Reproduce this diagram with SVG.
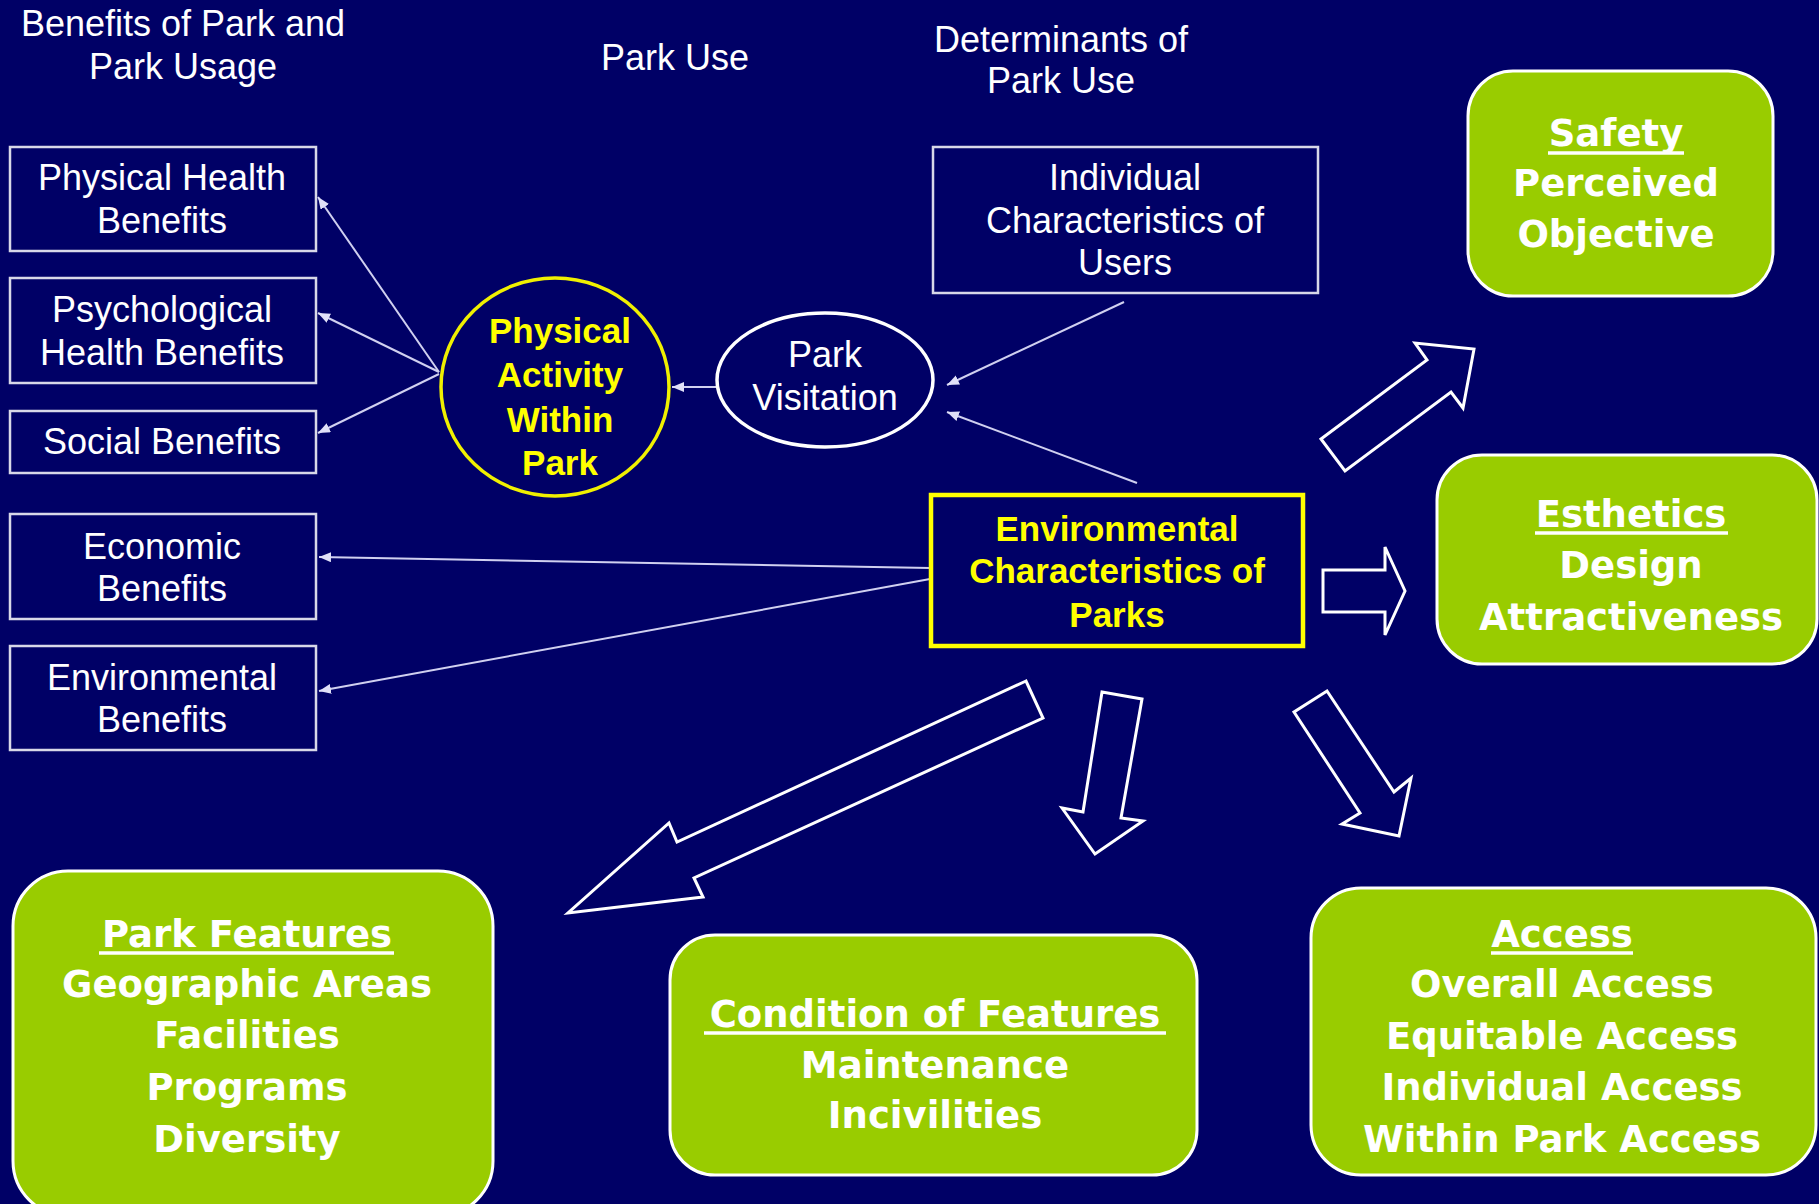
<svg xmlns="http://www.w3.org/2000/svg" width="1819" height="1204" viewBox="0 0 1819 1204">
<style>
.bg{fill:#000066}
.box{fill:#000066;stroke:#d8d8e8;stroke-width:2.5}
.t{font-family:"Liberation Sans",Arial,sans-serif;font-size:36px;fill:#ffffff;text-anchor:middle}
.ty{font-family:"Liberation Sans",Arial,sans-serif;font-size:35px;font-weight:bold;fill:#ffff00;text-anchor:middle}
.g{fill:#99cc00;stroke:#ffffff;stroke-width:3}
.tg{font-family:Verdana,"DejaVu Sans",sans-serif;font-size:37px;font-weight:bold;fill:#ffffff;text-anchor:middle}
.ul{stroke:#ffffff;stroke-width:3.5}
.ln{stroke:#d0d0f0;stroke-width:2;fill:none;marker-end:url(#ah)}
.blk{fill:#000066;stroke:#ffffff;stroke-width:3;stroke-linejoin:miter}
</style>
<defs>
<marker id="ah" markerUnits="userSpaceOnUse" markerWidth="14" markerHeight="12" refX="12" refY="5" orient="auto">
<path d="M0,0 L12,5 L0,10 Z" fill="#e0e0f8"/>
</marker>
</defs>
<rect class="bg" x="0" y="0" width="1819" height="1204"/>

<g id="titles">
<text class="t" x="183" y="36">Benefits of Park and</text>
<text class="t" x="183" y="79">Park Usage</text>
<text class="t" x="675" y="70">Park Use</text>
<text class="t" x="1061" y="52">Determinants of</text>
<text class="t" x="1061" y="93">Park Use</text>
</g>

<g id="connectors">
<line class="ln" x1="716" y1="387" x2="672" y2="387"/>
<line class="ln" x1="439" y1="372" x2="318" y2="197"/>
<line class="ln" x1="439" y1="372" x2="318" y2="313"/>
<line class="ln" x1="439" y1="374" x2="318" y2="433"/>
<line class="ln" x1="1124" y1="302" x2="947" y2="385"/>
<line class="ln" x1="1137" y1="483" x2="947" y2="412"/>
<line class="ln" x1="930" y1="568" x2="319" y2="557"/>
<line class="ln" x1="930" y1="579" x2="319" y2="691"/>
<polygon class="blk" points="1321,439 1427,360 1415,343 1474,349 1463,408 1451,392 1345,471"/>
<polygon class="blk" points="1323,570 1385,570 1385,547 1405,591 1385,635 1385,612 1323,612"/>
<polygon class="blk" points="1026,681 677,842 669,823 568,913 703,897 694,878 1043,718"/>
<polygon class="blk" points="1102,692 1142,699 1121,818 1143,821 1095,854 1062,808 1083,812"/>
<polygon class="blk" points="1327,691 1394,792 1411,778 1399,836 1342,824 1360,813 1294,712"/>
</g>

<g id="physical-health">
<rect class="box" x="10" y="147" width="306" height="104"/>
<text class="t" x="162" y="190">Physical Health</text>
<text class="t" x="162" y="233">Benefits</text>
</g>
<g id="psychological">
<rect class="box" x="10" y="278" width="306" height="105"/>
<text class="t" x="162" y="322">Psychological</text>
<text class="t" x="162" y="365">Health Benefits</text>
</g>
<g id="social">
<rect class="box" x="10" y="411" width="306" height="62"/>
<text class="t" x="162" y="454">Social Benefits</text>
</g>
<g id="economic">
<rect class="box" x="10" y="514" width="306" height="105"/>
<text class="t" x="162" y="559">Economic</text>
<text class="t" x="162" y="601">Benefits</text>
</g>
<g id="environmental-benefits">
<rect class="box" x="10" y="646" width="306" height="104"/>
<text class="t" x="162" y="690">Environmental</text>
<text class="t" x="162" y="732">Benefits</text>
</g>

<g id="physical-activity">
<ellipse cx="555" cy="387" rx="114" ry="109" fill="#000066" stroke="#f0f000" stroke-width="3.5"/>
<text class="ty" x="560" y="343">Physical</text>
<text class="ty" x="560" y="387">Activity</text>
<text class="ty" x="560" y="432">Within</text>
<text class="ty" x="560" y="475">Park</text>
</g>

<g id="park-visitation">
<ellipse cx="825" cy="380" rx="108" ry="67" fill="#000066" stroke="#ffffff" stroke-width="3.5"/>
<text class="t" x="825" y="367">Park</text>
<text class="t" x="825" y="410">Visitation</text>
</g>

<g id="individual">
<rect class="box" x="933" y="147" width="385" height="146"/>
<text class="t" x="1125" y="190">Individual</text>
<text class="t" x="1125" y="233">Characteristics of</text>
<text class="t" x="1125" y="275">Users</text>
</g>

<g id="environmental-characteristics">
<rect x="931" y="495" width="372" height="151" fill="#000066" stroke="#ffff00" stroke-width="4.5"/>
<text class="ty" x="1117" y="541">Environmental</text>
<text class="ty" x="1117" y="583">Characteristics of</text>
<text class="ty" x="1117" y="627">Parks</text>
</g>

<g id="safety">
<rect class="g" x="1468" y="71" width="305" height="225" rx="45" ry="45"/>
<text class="tg" x="1616" y="146">Safety</text>
<line class="ul" x1="1548" y1="153" x2="1684" y2="153"/>
<text class="tg" x="1616" y="196">Perceived</text>
<text class="tg" x="1616" y="247">Objective</text>
</g>

<g id="esthetics">
<rect class="g" x="1437" y="455" width="380" height="209" rx="45" ry="45"/>
<text class="tg" x="1631" y="527">Esthetics</text>
<line class="ul" x1="1535" y1="533" x2="1728" y2="533"/>
<text class="tg" x="1631" y="578">Design</text>
<text class="tg" x="1631" y="630">Attractiveness</text>
</g>

<g id="park-features">
<rect class="g" x="13" y="871" width="480" height="345" rx="55" ry="55"/>
<text class="tg" x="247" y="947">Park Features</text>
<line class="ul" x1="99" y1="953" x2="394" y2="953"/>
<text class="tg" x="247" y="997">Geographic Areas</text>
<text class="tg" x="247" y="1048">Facilities</text>
<text class="tg" x="247" y="1100">Programs</text>
<text class="tg" x="247" y="1152">Diversity</text>
</g>

<g id="condition">
<rect class="g" x="670" y="935" width="527" height="240" rx="45" ry="45"/>
<text class="tg" x="935" y="1027">Condition of Features</text>
<line class="ul" x1="704" y1="1033" x2="1166" y2="1033"/>
<text class="tg" x="935" y="1078">Maintenance</text>
<text class="tg" x="935" y="1128">Incivilities</text>
</g>

<g id="access">
<rect class="g" x="1311" y="888" width="505" height="287" rx="50" ry="50"/>
<text class="tg" x="1562" y="947">Access</text>
<line class="ul" x1="1491" y1="953" x2="1633" y2="953"/>
<text class="tg" x="1562" y="997">Overall Access</text>
<text class="tg" x="1562" y="1049">Equitable Access</text>
<text class="tg" x="1562" y="1100">Individual Access</text>
<text class="tg" x="1562" y="1152">Within Park Access</text>
</g>
</svg>
